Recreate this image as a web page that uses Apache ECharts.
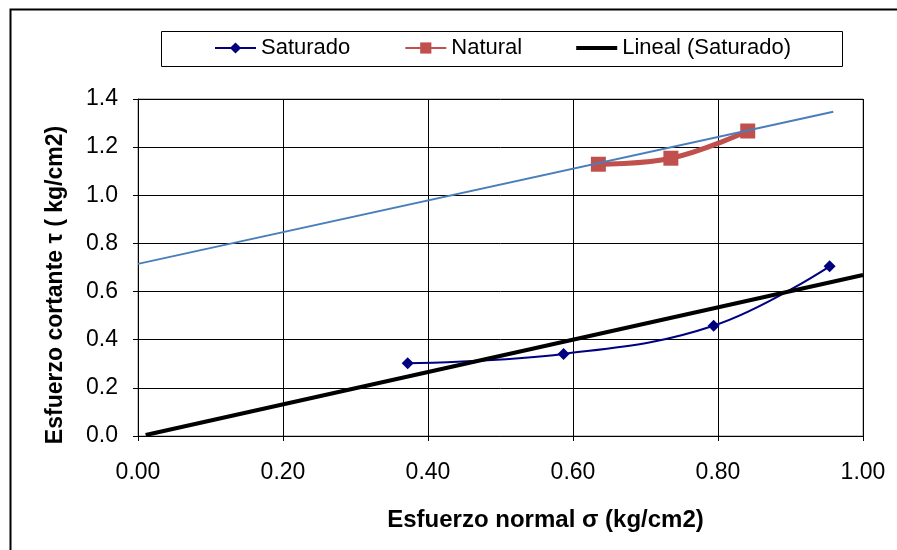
<!DOCTYPE html>
<html>
<head>
<meta charset="utf-8">
<script src="https://cdn.jsdelivr.net/npm/echarts@6/dist/echarts.min.js"></script>
<style>html,body{margin:0;padding:0;background:#fff;}#c{width:897px;height:550px;}</style>
</head>
<body>
<div id="c"></div>
<script>
const saturadoX = [0.372, 0.587, 0.794, 0.954];
const saturadoY = [0.302, 0.341, 0.458, 0.705];
const naturalX = [0.635, 0.735, 0.841];
const naturalY = [1.129, 1.154, 1.267];
const linealSatX = [0.0106, 1.0];
const linealSatY = [0.004, 0.669];
const linealNatX = [0.0, 0.959];
const linealNatY = [0.715, 1.347];
const seriesNames = ['Saturado', 'Natural', 'Lineal (Saturado)'];
const xTitle = 'Esfuerzo normal σ (kg/cm2)';
const yTitle = 'Esfuerzo cortante τ ( kg/cm2)';

const pairs = (xs, ys) => xs.map((x, i) => [x, ys[i]]);
const FONT = '"Liberation Sans", Arial, sans-serif';

const chart = echarts.init(document.getElementById('c'), null, {renderer: 'canvas'});
chart.setOption({
  animation: false,
  backgroundColor: '#fff',
  graphic: [
    {type: 'rect', left: 8, top: 7, shape: {x: 0, y: 0, width: 1000, height: 700}, style: {fill: 'none', stroke: '#000', lineWidth: 2}, silent: true, z: -10},
    {type: 'rect', shape: {x: 161.5, y: 31.5, width: 681, height: 35}, style: {fill: '#fff', stroke: '#000', lineWidth: 1}, silent: true, z: -5}
  ],
  legend: {
    data: [
      {name: seriesNames[0]},
      {name: seriesNames[1]},
      {name: seriesNames[2], icon: 'path://M0,0 L41,0 L41,4 L0,4 Z', itemStyle: {color: '#000'}}
    ],
    left: 214,
    top: 37,
    itemWidth: 41,
    itemHeight: 14,
    itemGap: 54,
    textStyle: {fontFamily: FONT, fontSize: 22, color: '#000'},
    padding: 0
  },
  grid: {left: 138, right: 34, top: 99, bottom: 114, show: true, borderColor: '#888', borderWidth: 1, backgroundColor: 'transparent'},
  xAxis: {
    type: 'value', min: 0, max: 1, interval: 0.2,
    name: xTitle, nameLocation: 'middle', nameGap: 72,
    nameTextStyle: {fontFamily: FONT, fontSize: 24, fontWeight: 'bold', color: '#000', padding: [0, 0, 0, 90]},
    axisLine: {show: true, lineStyle: {color: '#000', width: 1}},
    axisTick: {show: true, length: 5, lineStyle: {color: '#000'}},
    axisLabel: {fontFamily: FONT, fontSize: 23, color: '#000', margin: 25, formatter: v => v.toFixed(2)},
    splitLine: {show: true, lineStyle: {color: '#000', width: 1}}
  },
  yAxis: {
    type: 'value', min: 0, max: 1.4, interval: 0.2,
    name: yTitle, nameLocation: 'middle', nameGap: 71, nameRotate: 90,
    nameTextStyle: {fontFamily: FONT, fontSize: 23, fontWeight: 'bold', color: '#000', padding: [0, 35, 0, 0]},
    axisLine: {show: true, lineStyle: {color: '#000', width: 1}},
    axisTick: {show: true, length: 5, lineStyle: {color: '#000'}},
    axisLabel: {fontFamily: FONT, fontSize: 23, color: '#000', margin: 20, formatter: v => v.toFixed(1)},
    splitLine: {show: true, lineStyle: {color: '#000', width: 1}}
  },
  series: [
    {
      name: seriesNames[0], type: 'line', smooth: 0.4,
      data: pairs(saturadoX, saturadoY),
      symbol: 'diamond', symbolSize: 12, showSymbol: true,
      lineStyle: {color: '#000080', width: 2},
      itemStyle: {color: '#000080'}, z: 2
    },
    {
      name: seriesNames[1], type: 'line', smooth: 0.4,
      data: pairs(naturalX, naturalY),
      symbol: 'rect', symbolSize: 15,
      lineStyle: {color: '#c0504d', width: 5},
      itemStyle: {color: '#c0504d'}, z: 2
    },
    {
      name: seriesNames[2], type: 'line',
      data: pairs(linealSatX, linealSatY),
      symbol: 'none',
      lineStyle: {color: '#000', width: 4},
      itemStyle: {color: '#000'}, z: 3
    },
    {
      name: 'Lineal (Natural)', type: 'line',
      data: pairs(linealNatX, linealNatY),
      symbol: 'none',
      lineStyle: {color: '#4a7ebb', width: 2},
      itemStyle: {color: '#4a7ebb'}, z: 3
    }
  ]
});
</script>
</body>
</html>
